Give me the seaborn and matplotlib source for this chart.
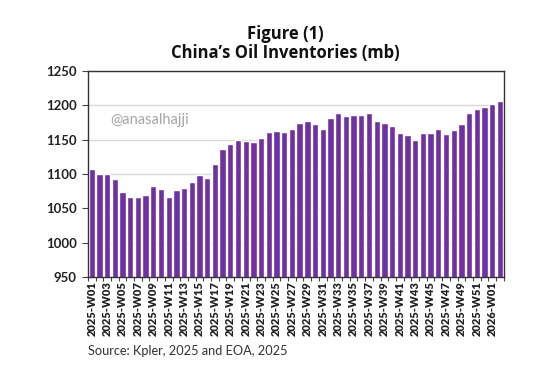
import matplotlib
matplotlib.use("Agg")
import matplotlib.pyplot as plt
import seaborn as sns
import pandas as pd

# weeks 2025-W01 .. 2025-W52, 2026-W01, 2026-W02
weeks = [f"2025-W{i:02d}" for i in range(1, 53)] + ["2026-W01", "2026-W02"]
inventories = [
    1107, 1100, 1100, 1093, 1074, 1067, 1066, 1070, 1082, 1078,
    1066, 1076, 1079, 1088, 1099, 1094, 1114, 1136, 1144, 1149,
    1148, 1146, 1153, 1161, 1163, 1161, 1165, 1174, 1177, 1172,
    1165, 1181, 1189, 1184, 1186, 1186, 1188, 1177, 1174, 1170,
    1160, 1156, 1149, 1160, 1160, 1165, 1158, 1164, 1172, 1189,
    1194, 1198, 1202, 1206,
]
title_lines = ["Figure (1)", "China\u2019s Oil Inventories (mb)"]
source_note = "Source: Kpler, 2025 and EOA, 2025"
watermark = "@anasalhajji"

df = pd.DataFrame({"week": weeks, "mb": inventories})

sns.set_theme(style="white")
plt.rcParams["font.family"] = ["Lato", "DejaVu Sans"]

fig = plt.figure(figsize=(5.56, 3.87), dpi=100)
ax = fig.add_axes([0.158, 0.284, 0.748, 0.533])

sns.barplot(data=df, x="week", y="mb", color="#7030A0", saturation=1,
            width=0.82, ax=ax)

ax.set_ylim(950, 1250)
ax.set_xlim(-0.5, len(weeks) - 0.5)
ax.set_yticks(range(950, 1251, 50))
ax.yaxis.grid(True, color="#d9d9d9", linewidth=1)
ax.set_axisbelow(True)
ax.set_xlabel("")
ax.set_ylabel("")

ax.set_xticks(range(0, len(weeks), 2))
ax.set_xticklabels(weeks[::2], rotation=90, fontsize=8, fontweight="heavy", color="#222222")
ax.set_xticks([i - 0.5 for i in range(len(weeks) + 1)], minor=True)
ax.tick_params(axis="x", which="major", length=0, pad=3)
ax.tick_params(axis="x", which="minor", length=3, width=0.8, color="#444444", direction="out", bottom=True)
ax.tick_params(axis="y", labelsize=9.5, length=4, width=0.8, color="#444444", left=True, pad=4)
for lab in ax.get_yticklabels():
    lab.set_fontweight("bold")
    lab.set_color("#222222")

for side in ["left", "top", "right", "bottom"]:
    ax.spines[side].set_visible(True)
    ax.spines[side].set_color("#333333")
    ax.spines[side].set_linewidth(1.0)

ax.text(0.055, 0.76, watermark, transform=ax.transAxes, fontsize=10.5,
        color="#a6a6a6", va="center", ha="left")

title_font = ["Open Sans", "DejaVu Sans"]
fig.text(0.513, 0.912, title_lines[0], ha="center", va="center", family=title_font,
         fontsize=12, fontweight="bold", color="#111111")
fig.text(0.513, 0.862, title_lines[1], ha="center", va="center", family=title_font,
         fontsize=12, fontweight="bold", color="#111111")
fig.text(0.158, 0.092, source_note, ha="left", va="center",
         fontsize=9.2, color="#333333")

fig.savefig("out.png", dpi=100, facecolor="white")
